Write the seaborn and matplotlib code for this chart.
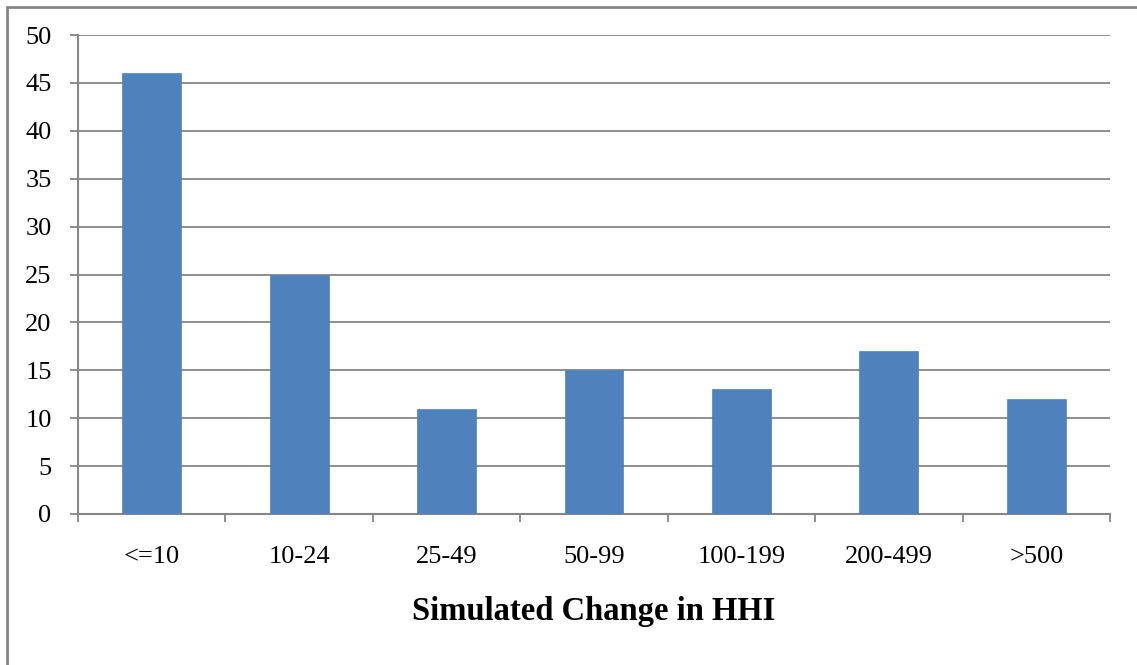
import numpy as np
import pandas as pd
import seaborn as sns
import matplotlib.pyplot as plt
from matplotlib.lines import Line2D

# data
categories = ['<=10', '10-24', '25-49', '50-99', '100-199', '200-499', '>500']
counts = [46, 25, 11, 15, 13, 17, 12]

df = pd.DataFrame({'bucket': categories, 'count': counts})

sns.set_theme(style='white')
plt.rcParams['font.family'] = ['Liberation Serif', 'DejaVu Serif']

fig = plt.figure(figsize=(11.37, 6.65), dpi=100)
ax = fig.add_axes([78 / 1137, 1 - 514 / 665, (1110 - 78) / 1137, (514 - 35) / 665])

grey = '#868686'

sns.barplot(data=df, x='bucket', y='count', color='#4F81BD', width=0.40,
            saturation=1, edgecolor='#4F81BD', linewidth=0.5, ax=ax, zorder=3)

ax.set_ylim(0, 50)
ax.set_yticks(np.arange(0, 51, 5))
ax.set_xlim(-0.5, len(categories) - 0.5)
ax.yaxis.grid(True, color=grey, linewidth=1.3, zorder=0)
ax.set_axisbelow(True)

for side in ['top', 'right']:
    ax.spines[side].set_visible(False)
for side in ['left', 'bottom']:
    ax.spines[side].set_color(grey)
    ax.spines[side].set_linewidth(1.5)

# tick marks: y outside, x at category boundaries
ax.tick_params(axis='y', which='major', length=6, width=1.3, color=grey,
               left=True, labelsize=19, pad=13, labelcolor='black')
ax.tick_params(axis='x', which='major', length=0, labelsize=19, pad=23,
               labelcolor='black')
ax.set_xticks(np.arange(-0.5, len(categories)), minor=True)
ax.tick_params(axis='x', which='minor', length=6, width=1.3, color=grey, bottom=True)

ax.set_ylabel('')
ax.set_xlabel('Simulated Change in HHI', fontsize=23.5, fontweight='bold',
              labelpad=20, color='black')

# frame around the chart (top and left edges visible)
fig.add_artist(Line2D([7 / 1137, 7 / 1137], [0, 1 - 7 / 665], transform=fig.transFigure,
                      color=grey, linewidth=2))
fig.add_artist(Line2D([7 / 1137, 1], [1 - 7 / 665, 1 - 7 / 665], transform=fig.transFigure,
                      color=grey, linewidth=2))

fig.savefig('out.png', dpi=100, facecolor='white')
